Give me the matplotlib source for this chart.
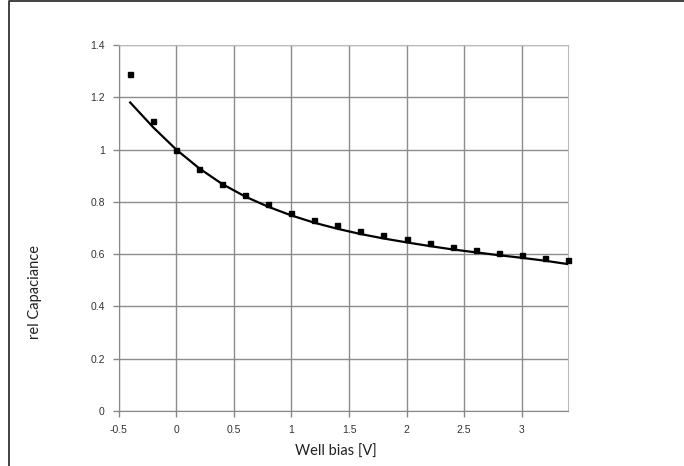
import matplotlib
matplotlib.use("Agg")
import matplotlib.pyplot as plt
from matplotlib.lines import Line2D

# measured points
bias = [-0.4, -0.2, 0.0, 0.2, 0.4, 0.6, 0.8, 1.0, 1.2, 1.4, 1.6, 1.8, 2.0,
        2.2, 2.4, 2.6, 2.8, 3.0, 3.2, 3.4]
relCap = [1.29, 1.11, 1.00, 0.925, 0.87, 0.825, 0.79, 0.757, 0.73, 0.71, 0.69,
          0.672, 0.658, 0.643, 0.628, 0.617, 0.605, 0.596, 0.587, 0.576]

# model curve
fitBias = [-0.4, -0.2, 0.0, 0.2, 0.4, 0.6, 0.8, 1.0, 1.2, 1.4, 1.6, 1.8, 2.0,
           2.2, 2.4, 2.6, 2.8, 3.0, 3.2, 3.4]
fitCap = [1.18, 1.085, 1.0, 0.928, 0.868, 0.82, 0.781, 0.748, 0.72, 0.697, 0.677,
          0.66, 0.645, 0.631, 0.618, 0.607, 0.596, 0.586, 0.575, 0.562]

xTicks = [-0.5, 0, 0.5, 1, 1.5, 2, 2.5, 3]
xTickLabels = ["-0.5", "0", "0.5", "1", "1.5", "2", "2.5", "3"]
yTicks = [0, 0.2, 0.4, 0.6, 0.8, 1.0, 1.2, 1.4]
yTickLabels = ["0", "0.2", "0.4", "0.6", "0.8", "1", "1.2", "1.4"]

fig = plt.figure(figsize=(6.84, 4.66), dpi=100)
ax = fig.add_axes([0.1735, 0.118, 0.6565, 0.7855])

ax.plot(fitBias, fitCap, color="black", lw=1.6, zorder=3)
ax.plot(bias, relCap, ls="none", marker="s", ms=3.6, color="black", zorder=4, clip_on=False)

ax.set_xlim(-0.5, 3.4)
ax.set_ylim(0, 1.4)
ax.set_xticks(xTicks)
ax.set_xticklabels(xTickLabels)
ax.set_yticks(yTicks)
ax.set_yticklabels(yTickLabels)
ax.grid(True, color="#8c8c8c", lw=1.0)
ax.set_axisbelow(True)
for s in ["top", "right"]:
    ax.spines[s].set_color("#bbbbbb")
for s in ["left", "bottom"]:
    ax.spines[s].set_color("#888888")
ax.tick_params(axis="both", colors="#888888", length=4, width=1, labelsize=7.5,
               labelcolor="#333333", pad=6)
for lab in ax.get_xticklabels() + ax.get_yticklabels():
    lab.set_family("Liberation Sans")

fig.text(336 / 684, 1 - 452 / 466, "Well bias [V]", ha="center", va="center",
         fontsize=10.5, family="Lato", color="#222222")
fig.text(35 / 684, 1 - 292 / 466, "rel Capaciance", ha="center", va="center",
         rotation=90, fontsize=10.5, family="Lato", color="#222222")

# frame: only left and top edges are in the picture
fx = 8.5 / 684
fy = 1 - 1.0 / 466
fig.lines.append(Line2D([fx, fx, 1.0], [0.0, fy, fy], transform=fig.transFigure,
                        color="#333333", lw=1.3))

fig.savefig("out.png", dpi=100)
